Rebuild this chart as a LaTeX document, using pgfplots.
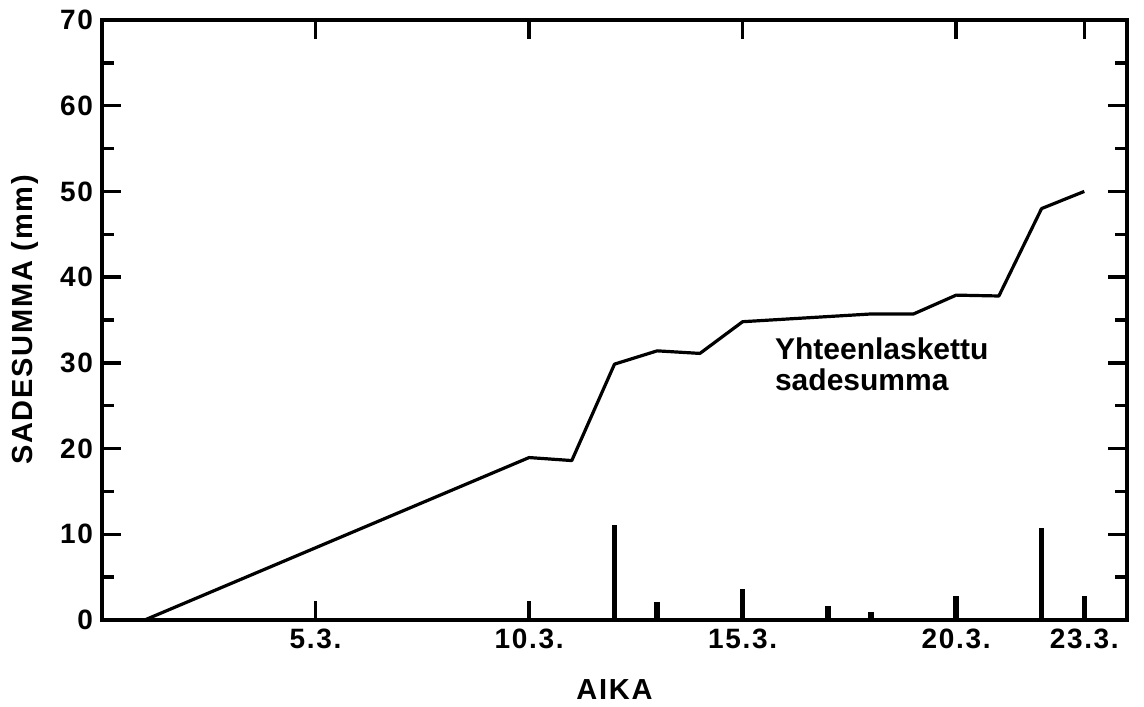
\documentclass[border=0pt]{standalone}
\usepackage{pgfplots}
\pgfplotsset{compat=1.18}
\usepackage{fontspec}
\setmainfont{Liberation Sans}
\newfontfamily\lbl[LetterSpace=6.0]{Liberation Sans Bold}
\newfontfamily\ann{Liberation Sans Bold}
\begin{document}
\begin{tikzpicture}
\begin{axis}[
  scale only axis, width=512.5pt, height=300pt,
  xmin=0, xmax=24, ymin=0, ymax=70,
  axis line style={line width=1.7pt},
  tick align=inside,
  xtick={5,10,15,20,23},
  xticklabels={5.3.,10.3.,15.3.,20.3.,23.3.},
  ytick={0,10,...,70},
  minor ytick={5,15,...,65},
  major tick length=9.5pt, minor tick length=6pt,
  every tick/.style={black, line width=1.7pt},
  ticklabel style={font=\lbl\fontsize{14}{16}\selectfont},
  /pgf/number format/assume math mode=true,
  xticklabel style={yshift=-1pt},
  yticklabel style={xshift=-1pt},
]
\addplot[black, line width=1.6pt, line join=round] coordinates {
 (1,0) (10,18.95) (11,18.6) (12,29.85) (13,31.4) (14,31.1) (15,34.8)
 (16,35.1) (17,35.4) (18,35.7) (19,35.7) (20,37.9) (21,37.8) (22,48) (23,50)
};
\addplot[ycomb, black, line width=2.8pt, mark=none] coordinates {
 (12,11.1) (13,2.1) (15,3.6) (17,1.6) (18,0.9) (20,2.8) (22,10.7) (23,2.8)
};
\node[anchor=north west, align=left, font=\ann\fontsize{15}{15.5}\selectfont, inner sep=0pt]
  at (axis cs:15.75,33.0) {Yhteenlaskettu\\sadesumma};
\end{axis}
\node[font=\lbl\fontsize{14.5}{16}\selectfont] at ([yshift=-35pt]current axis.south) {AIKA};
\node[rotate=90, font=\lbl\fontsize{14.5}{16}\selectfont] at ([xshift=-38.5pt]current axis.west) {SADESUMMA (mm)};
\pgfresetboundingbox
\path[use as bounding box] ([shift={(-51pt,-43.5pt)}]current axis.south west) rectangle ([shift={(8.5pt,10pt)}]current axis.north east);
\end{tikzpicture}
\end{document}
